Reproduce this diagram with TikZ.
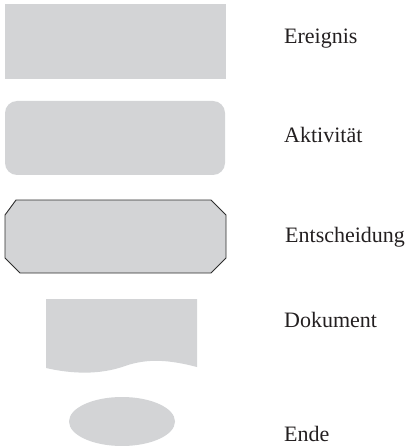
\documentclass[tikz,border=0pt]{standalone}
\usepackage{fontspec}
\setmainfont{Liberation Serif}
\definecolor{shapefill}{RGB}{211,212,214}
\definecolor{edgegray}{RGB}{45,45,45}
\definecolor{textgray}{RGB}{35,31,32}
\tikzset{
  shp/.style={fill=shapefill, draw=none},
  lbl/.style={anchor=base west, inner sep=0pt, font=\fontsize{22}{25}\selectfont, text=textgray}
}
\begin{document}
\begin{tikzpicture}[x=1pt,y=-1pt]
\useasboundingbox (0,0) rectangle (408,446);
% Ereignis
\path[shp] (5,4) rectangle (226,79);
% Aktivitaet
\path[shp, rounded corners=12pt] (5,101) rectangle (225,175);
% Entscheidung
\path[shp, draw=edgegray, line width=0.9pt] (16,200) -- (211,200) -- (226,215) -- (226,258) -- (211,273) -- (20,273) -- (5,258) -- (5,215) -- cycle;
% Dokument
\path[shp] (46,299) -- (197,299) -- (197,367)
  .. controls (170,360) and (148,358) .. (125,366)
  .. controls (100,375) and (72,374) .. (46,368) -- cycle;
% Ende
\path[shp] (122,421.5) ellipse [x radius=53, y radius=24.5];
% labels
\node[lbl] (t1) at (284,44) {Ereignis};
\node[lbl] (t2) at (284,143) {Aktivität};
\node[lbl] (t3) at (285,242) {Entscheidung};
\node[lbl] (t4) at (284,327) {Dokument};
\node[lbl] (t5) at (284,441.5) {Ende};
\end{tikzpicture}
\end{document}
